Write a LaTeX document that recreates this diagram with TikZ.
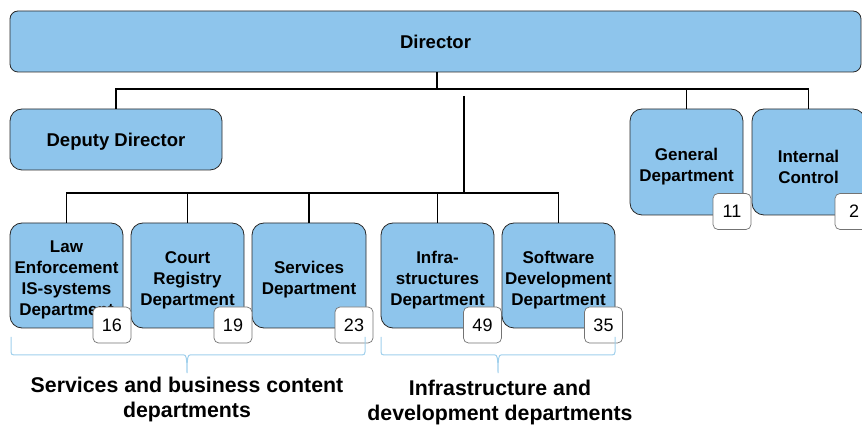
\documentclass[tikz,border=0pt]{standalone}
\usepackage{fontspec}
\setmainfont{Liberation Sans}
\definecolor{boxblue}{RGB}{142,197,236}
\definecolor{braceblue}{RGB}{160,208,236}
\definecolor{edge}{RGB}{40,40,40}
\newcommand{\firststrut}{\rule{0pt}{21.5pt}}
\begin{document}
\begin{tikzpicture}[x=1pt,y=-1pt,
  dept/.style={draw=edge, line width=0.8pt, fill=boxblue, rounded corners=12pt,
    align=center, inner sep=0pt, font=\bfseries\fontsize{17}{21}\selectfont},
  bigtext/.style={font=\bfseries\fontsize{18.5}{22}\selectfont},
  topbox/.style={dept, bigtext, rounded corners=8pt},
  numbox/.style={draw=black!55, line width=0.7pt, fill=white, rounded corners=5pt,
    inner sep=0pt, minimum width=38, minimum height=36, font=\fontsize{18}{20}\selectfont},
  conn/.style={draw=black, line width=1.1pt},
  bracket/.style={draw=braceblue, line width=1pt},
  caption/.style={align=center, inner sep=0pt, font=\bfseries\fontsize{21.3}{25}\selectfont}]
\useasboundingbox (0,0) rectangle (862,427);

% boxes
\node[topbox, minimum width=851, minimum height=61] (dir) at (435.5,41.5) {Director};
\node[dept, bigtext, minimum width=212, minimum height=61] (dep) at (116,139.5) {\rule{0pt}{18.5pt}Deputy Director};
\node[dept, minimum width=113, minimum height=106] (gen) at (686.5,162) {\firststrut General\\Department};
\node[dept, minimum width=113, minimum height=106] (int) at (808.5,162) {\firststrut Internal\\Control};
\node[dept, minimum width=113, minimum height=105] (law) at (66.5,275.5) {\firststrut Law\\Enforcement\\IS-systems\\Department};
\node[dept, minimum width=113, minimum height=105] (court) at (187.5,275.5) {\firststrut Court\\Registry\\Department};
\node[dept, minimum width=114, minimum height=105] (serv) at (309,275.5) {\firststrut Services\\Department};
\node[dept, minimum width=113, minimum height=105] (infra) at (437.5,275.5) {\firststrut Infra-\\structures\\Department};
\node[dept, minimum width=113, minimum height=105] (soft) at (558.5,275.5) {\firststrut Software\\Development\\Department};

% headcount boxes
\node[numbox] (n16) at (112,325) {16};
\node[numbox] (n19) at (233,325) {19};
\node[numbox] (n23) at (354,325) {23};
\node[numbox] (n49) at (482.5,325) {49};
\node[numbox] (n35) at (603.5,325) {35};
\node[numbox] (n11) at (732,211.5) {11};
\node[numbox] (n2) at (854,211.5) {2};

% connectors
\coordinate (j1) at (437,89);
\coordinate (m1) at (464,96);
\coordinate (m2) at (464,193);
\draw[conn] (dir.south -| j1) -- (j1);
\draw[conn] (dep.north) -- (dep.north |- j1) -- (int.north |- j1) -- (int.north);
\draw[conn] (gen.north |- j1) -- (gen.north);
\draw[conn] (m1) -- (m2);
\draw[conn] (law.north) -- (law.north |- m2) -- (soft.north |- m2) -- (soft.north);
\draw[conn] (court.north |- m2) -- (court.north);
\draw[conn] (serv.north |- m2) -- (serv.north);
\draw[conn] (infra.north |- m2) -- (infra.north);

% brackets
\coordinate (bl1) at (11,337);
\coordinate (bl2) at (365,337);
\coordinate (blt) at (187,373);
\draw[bracket] (bl1) -- (11,352) .. controls (11,354) and (12,355) .. (14,355) -- (184,355)
  .. controls (186,355) and (187,357) .. (blt) .. controls (187,357) and (188,355) .. (190,355)
  -- (362,355) .. controls (364,355) and (365,354) .. (365,352) -- (bl2);
\coordinate (br1) at (381,337);
\coordinate (br2) at (615,337);
\coordinate (brt) at (498,373);
\draw[bracket] (br1) -- (381,352) .. controls (381,354) and (382,355) .. (384,355) -- (495,355)
  .. controls (497,355) and (498,357) .. (brt) .. controls (498,357) and (499,355) .. (501,355)
  -- (612,355) .. controls (614,355) and (615,354) .. (615,352) -- (br2);

% captions
\node[caption] (capl) at (187,399.5) {Services and business content\\departments};
\node[caption] (capr) at (500,402.5) {Infrastructure and\\development departments};
\end{tikzpicture}
\end{document}
